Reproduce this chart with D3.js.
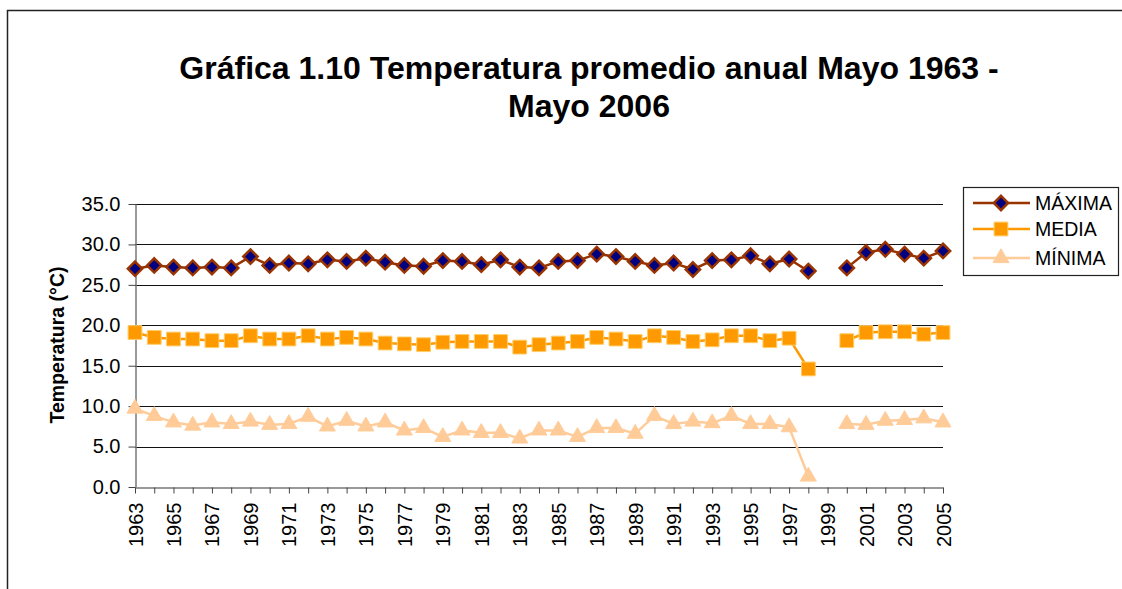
<!DOCTYPE html>
<html>
<head>
<meta charset="utf-8">
<script src="https://cdn.jsdelivr.net/npm/d3@7"></script>
<style>
  body { margin: 0; background: #fff; overflow: hidden; }
  svg { display: block; font-family: "Liberation Sans", Arial, sans-serif; }
</style>
</head>
<body>
<div id="chart"></div>
<script>
// years 1963 - 2005, no data for 1999
var years = d3.range(1963, 2006);

var maxima = [27.0, 27.4, 27.2, 27.1, 27.2, 27.1, 28.5, 27.4, 27.7, 27.6,
  28.1, 27.9, 28.3, 27.8, 27.4, 27.3, 28.0, 27.9, 27.5, 28.1,
  27.2, 27.1, 27.9, 28.0, 28.8, 28.5, 27.9, 27.4, 27.7, 26.9,
  28.0, 28.1, 28.6, 27.6, 28.2, 26.7, null, 27.1, 29.0, 29.4,
  28.8, 28.3, 29.2];

var media = [19.1, 18.5, 18.3, 18.3, 18.1, 18.1, 18.7, 18.3, 18.3, 18.7,
  18.3, 18.5, 18.3, 17.8, 17.7, 17.6, 17.9, 18.0, 18.0, 18.0,
  17.3, 17.6, 17.8, 18.0, 18.5, 18.3, 18.0, 18.7, 18.5, 18.0,
  18.2, 18.7, 18.7, 18.1, 18.4, 14.6, null, 18.1, 19.1, 19.2,
  19.2, 18.9, 19.1];

var minima = [9.7, 8.8, 8.0, 7.6, 8.0, 7.8, 8.1, 7.7, 7.8, 8.7,
  7.5, 8.2, 7.5, 8.0, 7.0, 7.3, 6.2, 7.0, 6.7, 6.7,
  6.0, 7.0, 7.0, 6.2, 7.3, 7.3, 6.6, 8.8, 7.8, 8.1,
  7.9, 8.8, 7.8, 7.8, 7.4, 1.3, null, 7.8, 7.7, 8.2,
  8.3, 8.5, 8.0];

var yTicks = [0, 5, 10, 15, 20, 25, 30, 35];

var svgWidth = 1122;
var svgHeight = 589;

var svg = d3.select("#chart")
  .append("svg")
  .attr("width", svgWidth)
  .attr("height", svgHeight);

// outer chart frame (runs off the right and bottom edge)
svg.append("rect")
  .attr("x", 7.5)
  .attr("y", 10.5)
  .attr("width", 1200)
  .attr("height", 700)
  .attr("fill", "none")
  .attr("stroke", "#222")
  .attr("stroke-width", 1.5);

// title
var title = svg.append("text")
  .attr("text-anchor", "middle")
  .style("font-size", "32px")
  .style("font-weight", "bold");
title.append("tspan").attr("x", 589).attr("y", 79)
  .text("Gráfica 1.10 Temperatura promedio anual Mayo 1963 -");
title.append("tspan").attr("x", 589).attr("y", 117)
  .text("Mayo 2006");

var x = d3.scalePoint()
  .domain(years)
  .range([135, 943]);

var y = d3.scaleLinear()
  .domain([0, 35])
  .range([487, 204]);

// gridlines
svg.append("g")
  .selectAll("line")
  .data(yTicks.filter(d => d > 0))
  .enter()
  .append("line")
  .attr("x1", 135)
  .attr("x2", 943)
  .attr("y1", d => Math.round(y(d)) + 0.5)
  .attr("y2", d => Math.round(y(d)) + 0.5)
  .attr("stroke", "#111")
  .attr("stroke-width", 1);

// y axis
var leftAxis = d3.axisLeft(y)
  .tickValues(yTicks)
  .tickFormat(d3.format(".1f"))
  .tickSize(7)
  .tickSizeOuter(0);

var yAxis = svg.append("g")
  .attr("transform", "translate(135.5,0)")
  .call(leftAxis);
yAxis.select(".domain").attr("stroke", "#777").attr("stroke-width", 1.5);
yAxis.selectAll(".tick line").attr("stroke", "#444");
yAxis.selectAll("text")
  .attr("x", -15)
  .style("font-size", "20px")
  .style("font-family", "'Liberation Sans', Arial, sans-serif")
  .attr("fill", "#000");

// x axis
var bottomAxis = d3.axisBottom(x)
  .tickSize(6)
  .tickSizeOuter(0)
  .tickFormat(d => (d - 1963) % 2 === 0 ? d : "");

var xAxis = svg.append("g")
  .attr("transform", "translate(0,487.5)")
  .call(bottomAxis);
xAxis.select(".domain").attr("stroke", "#777").attr("stroke-width", 1.5);
xAxis.selectAll(".tick line").attr("stroke", "#444");
xAxis.selectAll("text")
  .attr("transform", "rotate(-90)")
  .attr("text-anchor", "end")
  .attr("x", -15)
  .attr("y", 0)
  .attr("dy", "0.35em")
  .style("font-size", "20px")
  .style("font-family", "'Liberation Sans', Arial, sans-serif")
  .attr("fill", "#000");

// y axis label
svg.append("text")
  .attr("transform", "translate(64,345) rotate(-90)")
  .attr("text-anchor", "middle")
  .style("font-size", "19.5px")
  .style("font-weight", "bold")
  .text("Temperatura (°C)");

var series = [
  { name: "MÁXIMA", values: maxima, line: "#993300", fill: "#000080", stroke: "#993300", symbol: d3.symbolDiamond2, size: 130 },
  { name: "MEDIA", values: media, line: "#FF9900", fill: "#FF9900", stroke: "#FFCC66", symbol: d3.symbolSquare, size: 190 },
  { name: "MÍNIMA", values: minima, line: "#FFCC99", fill: "#FFCC99", stroke: "#FFCC99", symbol: d3.symbolTriangle, size: 110 }
];

var line = d3.line()
  .defined(d => d.v !== null)
  .x(d => x(d.year))
  .y(d => y(d.v));

// draw from bottom series up so MÁXIMA sits on top
series.slice().reverse().forEach(function(s) {
  var pts = years.map((yr, i) => ({ year: yr, v: s.values[i] }));
  var g = svg.append("g");
  g.append("path")
    .datum(pts)
    .attr("d", line)
    .attr("fill", "none")
    .attr("stroke", s.line)
    .attr("stroke-width", 2.5);
  g.selectAll("path.marker")
    .data(pts.filter(d => d.v !== null))
    .enter()
    .append("path")
    .attr("class", "marker")
    .attr("d", d3.symbol().type(s.symbol).size(s.size))
    .attr("transform", d => `translate(${x(d.year)},${y(d.v)})`)
    .attr("fill", s.fill)
    .attr("stroke", s.stroke)
    .attr("stroke-width", s.name === "MÁXIMA" ? 2.5 : 1);
});

// legend
var legend = svg.append("g");
legend.append("rect")
  .attr("x", 963.5)
  .attr("y", 187.5)
  .attr("width", 155)
  .attr("height", 88)
  .attr("fill", "#fff")
  .attr("stroke", "#222")
  .attr("stroke-width", 1.2);

var legendY = [203, 229, 258];
series.forEach(function(s, i) {
  var ly = legendY[i];
  legend.append("line")
    .attr("x1", 973).attr("x2", 1030)
    .attr("y1", ly).attr("y2", ly)
    .attr("stroke", s.line)
    .attr("stroke-width", 2.5);
  legend.append("path")
    .attr("d", d3.symbol().type(s.symbol).size(s.size))
    .attr("transform", `translate(1001,${ly})`)
    .attr("fill", s.fill)
    .attr("stroke", s.stroke)
    .attr("stroke-width", s.name === "MÁXIMA" ? 2.5 : 1);
  legend.append("text")
    .attr("x", 1035)
    .attr("y", ly)
    .attr("dy", "0.36em")
    .style("font-size", "19.5px")
    .text(s.name);
});
</script>
</body>
</html>
